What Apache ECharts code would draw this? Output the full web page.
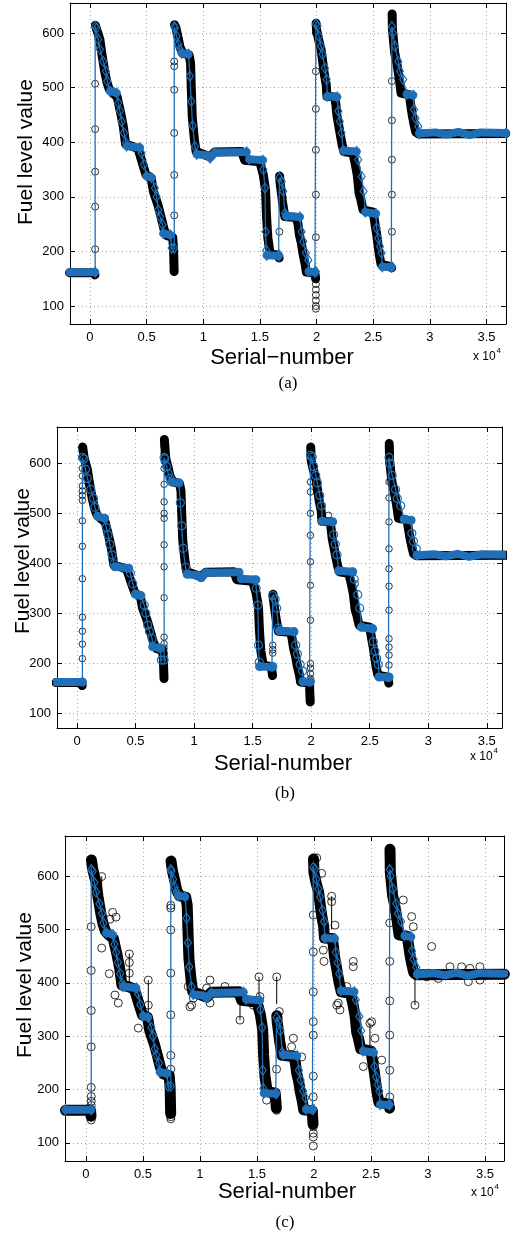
<!DOCTYPE html>
<html>
<head>
<meta charset="utf-8">
<script src="https://cdn.jsdelivr.net/npm/echarts@6/dist/echarts.min.js"></script>
<style>
  html, body { margin: 0; padding: 0; background: #fff; }
  #chart { width: 518px; height: 1236px; }
</style>
</head>
<body>
<div id="chart"></div>
<script>
// serial numbers where the tank gets refilled (same in all three panels)
var jumpX = [460, 7440, 16720, 19940, 26650];

// dense raw readings, one run between two refills (drawn as the black band)
var rawRuns = [
  [[-1800, 161], [400, 161], [440, 161]],
  [[480, 628], [600, 612], [880, 588], [1050, 562], [1300, 530], [1500, 510], [1700, 497], [2000, 490],
   [2400, 483], [2700, 455], [2950, 428], [3150, 396], [3800, 392], [4250, 388], [4650, 360], [4950, 340],
   [5400, 335], [5600, 310], [6000, 285], [6250, 265], [6550, 240], [6800, 229], [7300, 226], [7380, 205],
   [7430, 168]],
  [[7460, 640], [7580, 610], [7800, 590], [7950, 574], [8200, 563], [8750, 560], [8880, 545], [8950, 496],
   [9030, 446], [9230, 403], [9370, 383], [10000, 378], [10600, 373], [11000, 382], [13400, 383],
   [13650, 367], [15000, 364], [15300, 340], [15500, 312], [15580, 266], [15700, 225], [15900, 196],
   [16600, 193], [16700, 178]],
  [[16740, 338], [16780, 326], [16900, 306], [17000, 289], [17200, 264], [18200, 262], [18350, 252],
   [18500, 229], [18650, 216], [18800, 196], [19000, 176], [19100, 162], [19850, 160], [19920, 140]],
  [[19960, 633], [20000, 606], [20200, 586], [20400, 570], [20570, 543], [20700, 523], [20850, 506],
   [20920, 484], [21600, 483], [21700, 470], [21800, 449], [21970, 429], [22100, 413], [22250, 396],
   [22400, 383], [23200, 380], [23400, 362], [23600, 339], [23760, 306], [23900, 296], [24100, 276],
   [25000, 272], [25190, 246], [25300, 232], [25400, 216], [25550, 192], [25700, 176], [26550, 172],
   [26630, 160]],
  [[26670, 640], [26700, 606], [26900, 563], [27100, 543], [27200, 530], [27320, 513], [27460, 490],
   [28180, 487], [28300, 470], [28450, 449], [28600, 433], [28750, 419], [29000, 415], [36700, 416]]
];

// per panel: top of the raw band right after each refill, and the low end before it
var peaksA = [614, 615, 338, 618, 635];
var tailsA = [157, 163, 188, 150, 170];
var peaksB = [633, 648, 338, 633, 640];
var tailsB = [155, 169, 175, 122, 160];
var peaksC = [630, 628, 338, 632, 650];
var tailsC = [150, 155, 165, 135, 165];

// filtered fuel level (blue markers + line)
var filterPts = [
  [-1800, 162], [460, 162],
  [460, 612], [591, 609], [733, 588], [883, 570], [1174, 548], [1412, 530], [1527, 512], [1765, 494],
  [2357, 490], [2500, 472], [2648, 457], [2800, 438], [3000, 417], [3177, 399], [3240, 393], [4413, 390],
  [4560, 380], [4766, 359], [5000, 338], [5450, 335], [5737, 316], [5885, 300], [6030, 276], [6180, 264],
  [6414, 249], [6473, 233], [7100, 230], [7208, 206], [7440, 206],
  [7440, 612], [7500, 609], [7650, 594], [7800, 579], [7943, 570], [8090, 563], [8700, 561], [8826, 521],
  [8940, 475], [9064, 430], [9267, 392], [9415, 378], [10600, 371], [11000, 381], [13830, 382],
  [14050, 369], [15270, 367], [15300, 350], [15450, 316], [15500, 236], [15560, 202], [15600, 193],
  [16650, 192], [16720, 193],
  [16720, 335], [16920, 328], [17060, 310], [17210, 270], [17300, 265], [18530, 263], [18680, 236],
  [18830, 218], [19060, 197], [19270, 184], [19300, 163], [19860, 162], [19940, 163],
  [19940, 616], [20090, 613], [20210, 594], [20390, 576], [20530, 561], [20740, 536], [20890, 515],
  [20950, 484], [21830, 483], [21920, 457], [22060, 438], [22210, 417], [22360, 385], [23540, 383],
  [23680, 368], [23980, 337], [24150, 310], [24300, 272], [25250, 269], [25300, 243], [25450, 224],
  [25600, 209], [25740, 197], [25800, 172], [26600, 171], [26650, 172],
  [26650, 612], [26720, 600], [26920, 576], [27210, 548], [27360, 530], [27650, 515], [27950, 488],
  [28530, 486], [28600, 460], [28740, 444], [28980, 429], [29050, 416], [36720, 417]
];

// stretches where the blue markers overlap into a solid band
var filterBands = [
  [[-1800, 162], [450, 162]],
  [[1765, 494], [2357, 490]],
  [[3240, 393], [4413, 390]],
  [[5000, 338], [5450, 335]],
  [[6473, 233], [7100, 230]],
  [[8090, 563], [8700, 561]],
  [[9415, 378], [10300, 376], [10600, 371], [11000, 381], [13830, 382]],
  [[14050, 369], [15270, 367]],
  [[15600, 193], [16650, 192]],
  [[17300, 265], [18530, 263]],
  [[19300, 163], [19860, 162]],
  [[20950, 484], [21830, 483]],
  [[22360, 385], [23540, 383]],
  [[24300, 272], [25250, 269]],
  [[25800, 172], [26600, 171]],
  [[27950, 488], [28530, 486]],
  [[29050, 416], [30500, 418], [31500, 414], [32500, 419], [33500, 413], [34500, 418], [36720, 417]]
];

// raw circles strung along each refill jump, one list per jump
var jumpValsA = [
  [157, 204, 282, 346, 424, 507],
  [266, 340, 417, 496, 539, 548],
  [236],
  [95, 100, 110, 120, 130, 140, 150, 226, 304, 386, 461, 530, 600],
  [236, 304, 368, 440, 512]
];
var jumpValsB = [
  [155, 160, 209, 238, 264, 292, 369, 434, 485, 526, 536, 545, 555, 575, 590, 610, 625],
  [169, 206, 220, 230, 239, 252, 331, 393, 437, 490, 500, 523, 558, 590, 605, 620, 635, 648],
  [175, 220, 227, 236],
  [122, 130, 140, 155, 169, 179, 190, 199, 286, 356, 403, 456, 500, 543, 563],
  [160, 196, 216, 232, 249, 306, 354, 389, 429, 483, 531, 563, 600, 615, 630, 636]
];
var jumpValsC = [
  [143, 150, 160, 170, 178, 187, 204, 280, 348, 423, 505, 620, 630],
  [145, 149, 160, 238, 264, 340, 418, 499, 540, 545],
  [161, 238],
  [94, 111, 118, 130, 145, 160, 186, 225, 302, 327, 383, 458, 527, 615, 630],
  [175, 186, 236, 302, 366, 440, 512, 646, 652]
];

// stray raw readings off the band
var strayA = [];
var strayB = [[21480, 496], [23760, 359]];
var strayC = [
  [1377, 599], [2340, 532], [2632, 523], [2105, 519], [1377, 465], [2046, 417], [3800, 454], [3800, 438],
  [3800, 418], [5467, 405], [5467, 358], [2833, 362], [2544, 377], [4590, 315], [9415, 371], [10590, 390],
  [10880, 405], [12190, 393], [13510, 330], [15180, 411], [16730, 411], [8970, 393], [9270, 358],
  [10880, 362], [14680, 358], [15260, 374], [9120, 355], [15850, 180], [16960, 346], [18190, 296],
  [18040, 280], [18920, 261], [20240, 634], [20670, 605], [21550, 562], [21550, 552], [21840, 508],
  [20820, 461], [20880, 440], [23450, 440], [23450, 430], [22130, 362], [22280, 349], [22000, 358],
  [22870, 393], [24910, 324], [25060, 327], [24330, 243], [25350, 296], [25940, 255], [27830, 555],
  [28570, 524], [28710, 505], [30320, 468], [28860, 358], [31930, 430], [32950, 430], [33540, 402],
  [34560, 430], [34560, 405], [33680, 427], [30900, 408], [29880, 411]
];
// thin raw line pieces running from the band out to a stray reading: [x, from, to]
var spikesC = [
  [1377, 560, 599], [3800, 395, 455], [5467, 340, 405], [13510, 330, 380], [15180, 370, 411],
  [16730, 360, 411], [21550, 500, 562], [28860, 358, 420], [24910, 324, 270]
];

var xTicks = [0, 5000, 10000, 15000, 20000, 25000, 30000, 35000];
var yTicks = [100, 200, 300, 400, 500, 600];

var BLUE = '#1f6fb8';
var FONT = 'Liberation Sans, Arial, sans-serif';

var panels = [
  { grid: { left: 70, top: 3, width: 436, height: 321 }, x: [-1760, 36720], y: [67, 655],
    marker: 'diamond', markerSize: [7, 10], circle: 7, band: 9, jumps: jumpValsA, stray: strayA, spikes: [],
    peaks: peaksA, tails: tailsA,
    xName: 'Serial\u2212number', xNameAt: [282, 358], yNameAt: [26, 152], x10At: [473, 357], cap: '(a)', capAt: [288, 384] },
  { grid: { left: 57, top: 427, width: 445, height: 301 }, x: [-1710, 36300], y: [70, 673],
    marker: 'circle', markerSize: 8, circle: 6.5, band: 9, jumps: jumpValsB, stray: strayB, spikes: [],
    peaks: peaksB, tails: tailsB,
    xName: 'Serial-number', xNameAt: [283, 764], yNameAt: [23, 561], x10At: [470, 757], cap: '(b)', capAt: [285, 794] },
  { grid: { left: 65, top: 836, width: 439, height: 325 }, x: [-1840, 36670], y: [66, 675],
    marker: 'diamond', markerSize: [7, 10], circle: 8, band: 11, jumps: jumpValsC, stray: strayC, spikes: spikesC,
    peaks: peaksC, tails: tailsC,
    xName: 'Serial-number', xNameAt: [287, 1192], yNameAt: [25, 985], x10At: [471, 1193], cap: '(c)', capAt: [285, 1223] }
];

function tickLabel(list, scale) {
  return function (v) {
    for (var i = 0; i < list.length; i++) {
      if (Math.abs(v - list[i]) < 1e-6) return String(v / scale);
    }
    return '';
  };
}

// copy a run, putting this panel's own peak and low end on it
function panelRun(run, k, p) {
  var out = run.map(function (d) { return [d[0], d[1]]; });
  if (k > 0) out[0][1] = p.peaks[k - 1];
  if (k < rawRuns.length - 1) out[out.length - 1][1] = p.tails[k];
  return out;
}

var grids = [], xAxes = [], yAxes = [], series = [], graphics = [];

panels.forEach(function (p, i) {
  grids.push(p.grid);
  var boxLine = { show: true, onZero: false, lineStyle: { color: '#000', width: 1 } };
  var tick = { show: true, inside: true, length: 5, lineStyle: { color: '#000', width: 1 } };
  var dotted = { show: true, lineStyle: { color: '#a8a8a8', width: 1, type: [1, 3] } };

  xAxes.push({
    gridIndex: i, type: 'value', min: p.x[0], max: p.x[1], splitNumber: 8,
    axisLine: boxLine, axisTick: tick, splitLine: dotted,
    axisLabel: { formatter: tickLabel(xTicks, 10000), color: '#000', fontSize: 13, fontFamily: FONT, margin: 7 }
  });
  xAxes.push({
    gridIndex: i, type: 'value', position: 'top', min: p.x[0], max: p.x[1], splitNumber: 8,
    axisLine: boxLine, axisTick: tick, splitLine: { show: false }, axisLabel: { show: false }
  });
  yAxes.push({
    gridIndex: i, type: 'value', min: p.y[0], max: p.y[1], splitNumber: 6,
    axisLine: boxLine, axisTick: tick, splitLine: dotted,
    axisLabel: { formatter: tickLabel(yTicks, 1), color: '#000', fontSize: 13, fontFamily: FONT, margin: 6 }
  });
  yAxes.push({
    gridIndex: i, type: 'value', position: 'right', min: p.y[0], max: p.y[1], splitNumber: 6,
    axisLine: boxLine, axisTick: tick, splitLine: { show: false }, axisLabel: { show: false }
  });

  var xa = 2 * i, ya = 2 * i;

  // black band of raw readings
  rawRuns.forEach(function (run, k) {
    series.push({
      type: 'line', xAxisIndex: xa, yAxisIndex: ya, data: panelRun(run, k, p), showSymbol: false, z: 1,
      lineStyle: { color: '#000', width: p.band, cap: 'round', join: 'round' }
    });
  });

  // thin raw line out to stray readings
  p.spikes.forEach(function (s) {
    series.push({
      type: 'line', xAxisIndex: xa, yAxisIndex: ya, data: [[s[0], s[1]], [s[0], s[2]]],
      showSymbol: false, z: 2, lineStyle: { color: '#000', width: 1 }
    });
  });

  // raw circles on the jumps and off the band
  var circles = [];
  p.jumps.forEach(function (vals, j) {
    vals.forEach(function (v) { circles.push([jumpX[j], v]); });
  });
  p.stray.forEach(function (d) { circles.push(d); });
  series.push({
    type: 'scatter', xAxisIndex: xa, yAxisIndex: ya, data: circles, z: 2,
    symbol: 'circle', symbolSize: p.circle,
    itemStyle: { color: 'rgba(0,0,0,0)', borderColor: '#000', borderWidth: 1 }
  });

  // overlapping blue markers
  filterBands.forEach(function (b) {
    series.push({
      type: 'line', xAxisIndex: xa, yAxisIndex: ya, data: b, showSymbol: false, z: 3,
      lineStyle: { color: BLUE, width: 8, cap: 'round', join: 'round' }
    });
  });

  // filtered line with markers
  series.push({
    type: 'line', xAxisIndex: xa, yAxisIndex: ya, data: filterPts, z: 4,
    symbol: p.marker, symbolSize: p.markerSize, showAllSymbol: true,
    itemStyle: { color: 'rgba(0,0,0,0)', borderColor: BLUE, borderWidth: 1.2 },
    lineStyle: { color: BLUE, width: 1.3 }
  });

  graphics.push({
    type: 'text', x: p.yNameAt[0], y: p.yNameAt[1], rotation: Math.PI / 2,
    style: { text: 'Fuel level value', font: '21px ' + FONT, fill: '#000', align: 'center', verticalAlign: 'middle' }
  });
  graphics.push({
    type: 'text', x: p.xNameAt[0], y: p.xNameAt[1],
    style: { text: p.xName, font: '22px ' + FONT, fill: '#000', align: 'center', verticalAlign: 'middle' }
  });
  graphics.push({
    type: 'text', x: p.x10At[0], y: p.x10At[1],
    style: { text: 'x 10', font: '12px ' + FONT, fill: '#000', align: 'left', verticalAlign: 'middle' }
  });
  graphics.push({
    type: 'text', x: p.x10At[0] + 23.5, y: p.x10At[1] - 6,
    style: { text: '4', font: '8px ' + FONT, fill: '#000', align: 'left', verticalAlign: 'middle' }
  });
  graphics.push({
    type: 'text', x: p.capAt[0], y: p.capAt[1],
    style: { text: p.cap, font: '17px Liberation Serif, Times New Roman, serif', fill: '#000', align: 'center', verticalAlign: 'middle' }
  });
});

var chart = echarts.init(document.getElementById('chart'), null, { renderer: 'canvas' });
chart.setOption({
  animation: false,
  backgroundColor: '#fff',
  grid: grids,
  xAxis: xAxes,
  yAxis: yAxes,
  series: series,
  graphic: graphics
});
</script>
</body>
</html>
